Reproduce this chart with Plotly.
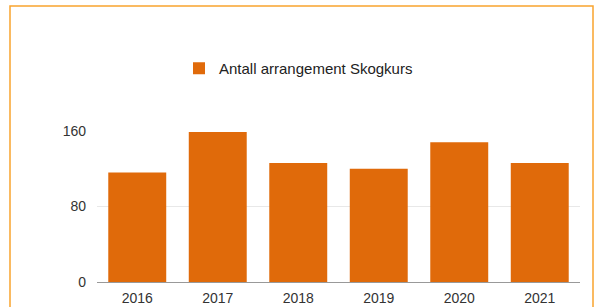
import plotly.graph_objects as go

years = ["2016", "2017", "2018", "2019", "2020", "2021"]
values = [116, 159, 126, 120, 148, 126]
series_name = "Antall arrangement Skogkurs"
y_ticks = [0, 80, 160]

W, H = 598, 307
L, R, T, B = 97, 18, 131, 25
pw = W - L - R
ph = H - T - B

def px_x(p):
    return (p - L) / pw

def px_y(p):
    return (H - B - p) / ph

fig = go.Figure()
fig.add_trace(go.Bar(x=years, y=values, name=series_name,
                     marker=dict(color="#E06A0A", line=dict(width=0))))

fig.update_layout(
    width=W, height=H,
    margin=dict(l=L, r=R, t=T, b=B, autoexpand=False),
    paper_bgcolor="white", plot_bgcolor="white",
    font=dict(family="Liberation Sans, Arial, Helvetica, sans-serif", color="#333333", size=14),
    bargap=0.28,
    showlegend=True,
    legend=dict(x=px_x(179), y=px_y(52), xanchor="left", yanchor="top",
                orientation="h", font=dict(size=15, color="#222222"),
                bgcolor="rgba(0,0,0,0)"),
    xaxis=dict(showgrid=False, showline=True, linecolor="#999999", linewidth=1,
               ticks="", ticklabelstandoff=3, tickfont=dict(size=14, color="#333333")),
    yaxis=dict(range=[0, 160], tickvals=y_ticks, showgrid=True, gridcolor="#E8E8E8",
               zeroline=False, showline=False, ticks="", ticklen=0, ticklabelstandoff=10,
               tickfont=dict(size=14, color="#333333")),
    shapes=[dict(type="rect", xref="paper", yref="paper",
                 x0=px_x(10), x1=px_x(593), y0=px_y(6), y1=px_y(330),
                 line=dict(color="#F9A42E", width=1.5), fillcolor="rgba(0,0,0,0)",
                 layer="below")],
)

fig.write_html("out.html", config={"displayModeBar": False},
               post_script="document.body.style.margin='0px';document.body.style.overflow='hidden';")
